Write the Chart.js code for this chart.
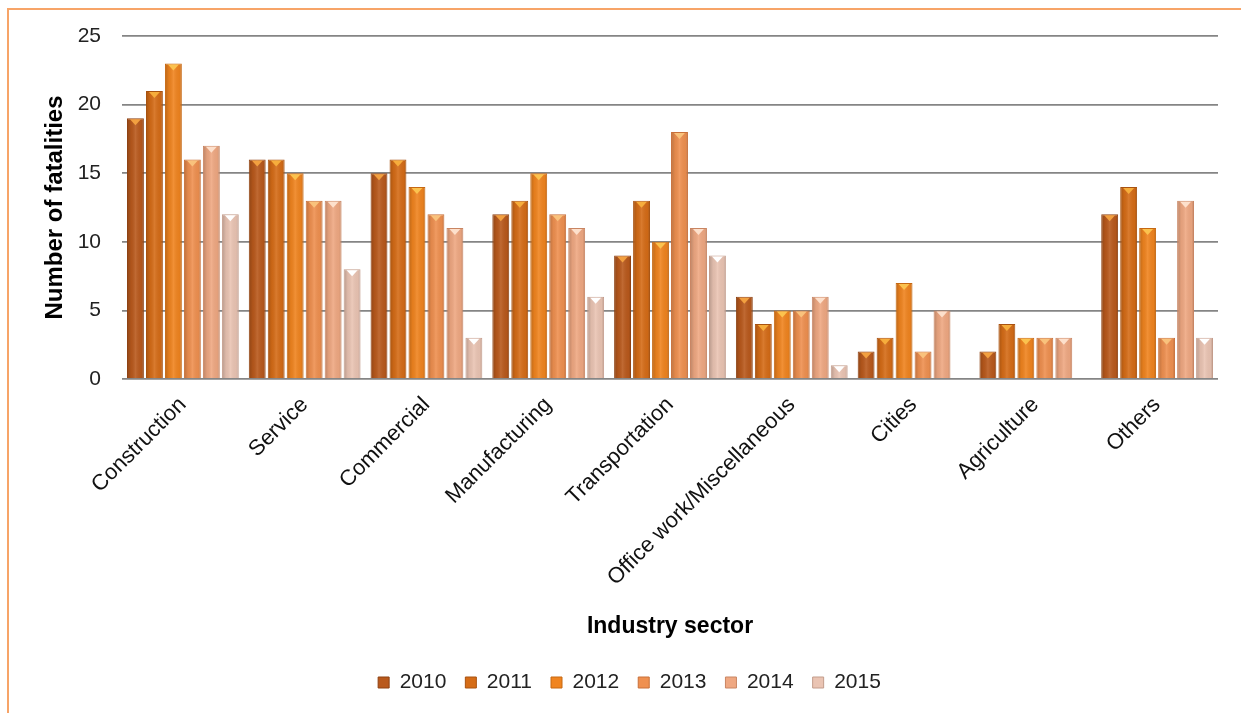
<!DOCTYPE html>
<html>
<head>
<meta charset="utf-8">
<title>Fatalities by industry sector</title>
<script src="https://cdn.jsdelivr.net/npm/chart.js@4.4.0/dist/chart.umd.min.js"></script>
<style>
    html, body { margin: 0; padding: 0; background: #fff; }
    #wrap { position: relative; width: 1241px; height: 713px; overflow: hidden; }
    #frame {
        position: absolute; left: 7px; top: 8px; right: -4px; bottom: -4px;
        border-left: 2px solid #f7a468; border-top: 2px solid #f7a468;
        pointer-events: none;
    }
    canvas { position: absolute; left: 0; top: 0; }
</style>
</head>
<body>
<div id="wrap">
    <canvas id="chart" width="1241" height="713"></canvas>
    <div id="frame"></div>
</div>
<script>
const FONT = "'Liberation Sans', Arial, sans-serif";

const sectors = ['Construction', 'Service', 'Commercial', 'Manufacturing', 'Transportation',
    'Office work/Miscellaneous', 'Cities', 'Agriculture', 'Others'];
const years = ['2010', '2011', '2012', '2013', '2014', '2015'];

const fatal2010 = [19, 16, 15, 12, 9, 6, 2, 2, 12];
const fatal2011 = [21, 16, 16, 13, 13, 4, 3, 4, 14];
const fatal2012 = [23, 15, 14, 15, 10, 5, 7, 3, 11];
const fatal2013 = [16, 13, 12, 12, 18, 5, 2, 3, 3];
const fatal2014 = [17, 13, 11, 11, 11, 6, 5, 3, 13];
const fatal2015 = [12, 8, 3, 6, 9, 1, 0, 0, 3];

const yTicks = [0, 5, 10, 15, 20, 25];

const fills = ['#b9591c', '#d56c17', '#f0841f', '#ef9050', '#efa882', '#eac4b3'];
const edges = ['#8e4213', '#a85210', '#c66812', '#c8703a', '#c98562', '#c39c8b'];
const tips = ['#f2a040', '#f6ad3c', '#fbc24e', '#f9c27c', '#fde0cc', '#ffffff'];

const series = [fatal2010, fatal2011, fatal2012, fatal2013, fatal2014, fatal2015];

const data = {
    labels: sectors,
    datasets: series.map((vals, i) => ({
        label: years[i],
        data: vals,
        backgroundColor: fills[i],
        borderColor: edges[i],
        borderWidth: 1,
        categoryPercentage: 0.935,
        barPercentage: 0.89
    }))
};

// bevel look: shade each bar and put a small tip at its top
const bevel = {
    id: 'bevel',
    afterDatasetsDraw(chart) {
        const ctx = chart.ctx;
        chart.data.datasets.forEach((ds, di) => {
            const meta = chart.getDatasetMeta(di);
            meta.data.forEach((bar) => {
                const p = bar.getProps(['x', 'y', 'base', 'width'], true);
                const h = p.base - p.y;
                if (h < 1) return;
                const l = p.x - p.width / 2;
                const g = ctx.createLinearGradient(l, 0, l + p.width, 0);
                g.addColorStop(0, 'rgba(0,0,0,0.22)');
                g.addColorStop(0.25, 'rgba(0,0,0,0.05)');
                g.addColorStop(0.5, 'rgba(255,255,255,0.10)');
                g.addColorStop(0.85, 'rgba(0,0,0,0.04)');
                g.addColorStop(1, 'rgba(0,0,0,0.2)');
                ctx.save();
                ctx.fillStyle = g;
                ctx.fillRect(l + 1, p.y + 1, p.width - 2, h - 1);
                const tip = Math.min(6, h - 1);
                ctx.fillStyle = tips[di];
                ctx.beginPath();
                ctx.moveTo(l + 3, p.y + 1);
                ctx.lineTo(l + p.width - 3, p.y + 1);
                ctx.lineTo(p.x, p.y + 1 + tip);
                ctx.closePath();
                ctx.fill();
                ctx.restore();
            });
        });
    }
};

// fixed legend box height
const legendHeight = {
    id: 'legendHeight',
    beforeInit(chart) {
        const fit = chart.legend.fit;
        chart.legend.fit = function () {
            fit.bind(chart.legend)();
            this.height = 60;
        };
    }
};

const config = {
    type: 'bar',
    data,
    options: {
        responsive: false,
        animation: false,
        devicePixelRatio: 1,
        layout: { padding: { left: 41, right: 23, top: 36, bottom: 0 } },
        plugins: {
            legend: {
                position: 'bottom',
                labels: {
                    boxWidth: 11,
                    boxHeight: 11,
                    padding: 19,
                    color: '#222',
                    font: { family: FONT, size: 21 }
                }
            },
            tooltip: { enabled: false }
        },
        scales: {
            x: {
                grid: { display: false },
                border: { display: false },
                ticks: {
                    autoSkip: false,
                    minRotation: 45,
                    maxRotation: 45,
                    padding: 5,
                    color: '#111',
                    font: { family: FONT, size: 22 }
                },
                title: {
                    display: true,
                    text: 'Industry sector',
                    color: '#000',
                    padding: { top: 0, bottom: 13 },
                    font: { family: FONT, size: 23, weight: 'bold' }
                },
                afterFit(scale) { scale.height = 274; }
            },
            y: {
                min: 0,
                max: 25,
                afterBuildTicks(scale) { scale.ticks = yTicks.map(v => ({ value: v })); },
                grid: { color: '#858585', lineWidth: 1.8, drawTicks: false },
                border: { display: false },
                ticks: {
                    padding: 21,
                    color: '#222',
                    font: { family: FONT, size: 21 }
                },
                title: {
                    display: true,
                    text: 'Number of fatalities',
                    color: '#000',
                    padding: 0,
                    font: { family: FONT, size: 24, weight: 'bold' }
                },
                afterFit(scale) { scale.width = 81; }
            }
        }
    },
    plugins: [bevel, legendHeight]
};

var chart = new Chart(document.getElementById('chart'), config);
</script>
</body>
</html>
